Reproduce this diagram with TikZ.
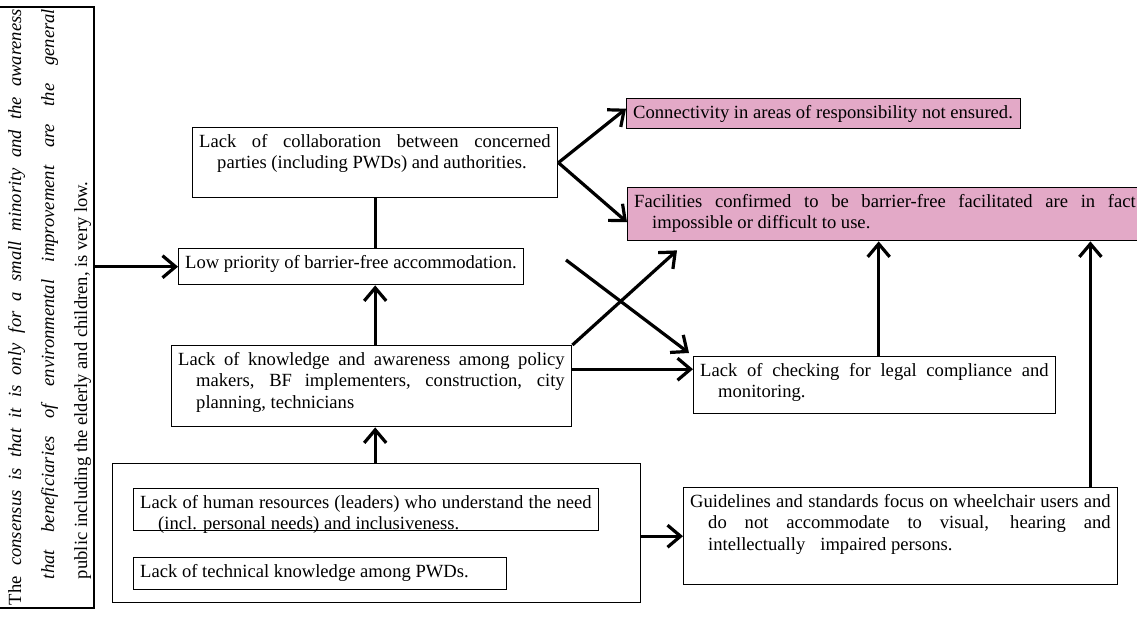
\documentclass[tikz,border=0pt]{standalone}
\usepackage{fontspec}
\setmainfont{Liberation Serif}
\usetikzlibrary{arrows.meta}
\definecolor{pinkfill}{RGB}{227,169,199}
\newcommand{\boxtext}{\fontsize{18.6}{21.7}\selectfont\leftskip=6.5pt\rightskip=7pt\parindent=0pt\hyphenpenalty=10000\exhyphenpenalty=10000\tolerance=10000\noindent\rule{0pt}{19.5pt}}
\newcommand{\hi}{\hangindent=18pt\hangafter=1\relax}
\newcommand{\bx}[7]{\node[boxst,#6] (#1) at (#2,#3) {\parbox[c][\dimexpr#5pt-#3pt\relax][t]{\dimexpr#4pt-#2pt\relax}{\boxtext#7}};}
\tikzset{
  boxst/.style={draw, line width=1.4pt, inner sep=0pt, anchor=north west},
  pinkbox/.style={fill=pinkfill},
  arr/.style={line width=3.2pt, -{Straight Barb[length=13pt,width=22pt]}},
  ln/.style={line width=3.2pt}
}
\begin{document}
\begin{tikzpicture}[x=1pt,y=-1pt]
\useasboundingbox (0,0) rectangle (1137,617);
\clip (0,0) rectangle (1137,617);
% left rotated box
\node[draw,line width=1.4pt,inner sep=0pt,rotate=90] (lb) at (46.5,307.5)
 {\parbox[c][95pt][t]{601pt}{\fontsize{18.6}{33}\selectfont\leftskip=3pt\rightskip=2pt\hyphenpenalty=10000\tolerance=10000\hangindent=26pt\hangafter=1\noindent\rule{0pt}{22pt}The \textit{consensus is that it is only for a small minority and the awareness\linebreak that beneficiaries of environmental improvement are the general}\linebreak public including the elderly and children, is very low.}};
% boxes
\bx{collab}{192}{127}{557}{197}{}{\hi Lack of collaboration between concerned\linebreak parties (including PWDs) and authorities.}
\bx{lowp}{178}{248}{523}{284}{}{Low priority of barrier-free accommodation.}
\bx{conn}{626}{98}{1020}{128}{pinkbox}{Connectivity in areas of responsibility not ensured.}
\bx{fac}{627}{187}{1142}{240}{pinkbox}{\hi Facilities confirmed to be barrier-free facilitated are in fact\linebreak impossible or difficult to use.}
\bx{know}{171}{345}{571}{426}{}{\hi Lack of knowledge and awareness among policy\linebreak makers, BF implementers, construction, city\linebreak planning, technicians}
\bx{chk}{693}{356}{1055}{413}{}{\hi Lack of checking for legal compliance and\linebreak monitoring.}
\bx{gd}{683}{487}{1117}{584}{}{\hi Guidelines and standards focus on wheelchair users and\linebreak do not accommodate to visual, hearing and\linebreak intellectually\hspace{15pt}impaired persons.}
\node[boxst,minimum width=528pt,minimum height=139pt] (big) at (112,463) {};
\bx{hr}{133}{488}{598}{530}{}{\hi Lack of human resources (leaders) who understand the need\linebreak (incl. personal needs) and inclusiveness.}
\bx{tech}{133}{557}{506}{589}{}{Lack of technical knowledge among PWDs.}
% coordinates for free ends
\coordinate (tipA) at ([xshift=50pt,yshift=-9pt]fac.south west);
\coordinate (startB) at (566,260);
% connectors
\draw[arr] (lb.south |- lowp.west) -- (lowp.west);
\draw[ln] (collab.south) -- (collab.south |- lowp.north);
\draw[arr] (collab.south |- know.north) -- (collab.south |- lowp.south);
\draw[arr] (collab.south |- big.north) -- (collab.south |- know.south);
\draw[arr] (collab.east) -- ([yshift=5pt]conn.west);
\draw[arr] (collab.east) -- ([yshift=-8pt]fac.west);
\draw[arr] (know.north east) -- (tipA);
\draw[arr] (startB) -- ([xshift=-4pt,yshift=3pt]chk.north west);
\draw[arr] ([yshift=17pt]know.east) -- ([yshift=17pt]know.east -| chk.west);
\draw[arr] ([xshift=4pt]chk.north) -- ([xshift=4pt]chk.north |- fac.south);
\draw[arr] ([xshift=-28pt]gd.north east) -- ([xshift=-28pt]gd.north east |- fac.south);
\draw[arr] (big.east |- gd.west) -- (gd.west);
\end{tikzpicture}
\end{document}
